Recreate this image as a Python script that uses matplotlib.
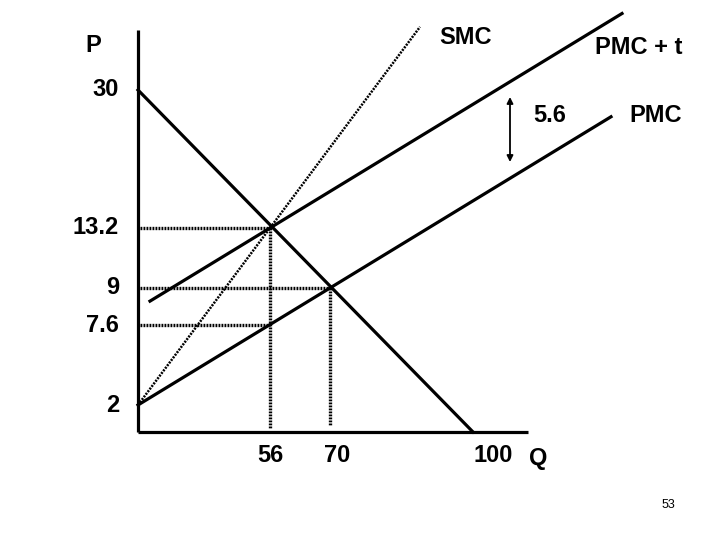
import numpy as np
import matplotlib
matplotlib.use("Agg")
import matplotlib.pyplot as plt

plt.rcParams['font.family'] = ['Liberation Sans', 'DejaVu Sans']

# economic values
q_ticks = [56, 70, 100]
p_ticks = [30, 13.2, 9, 7.6, 2]
tax = 5.6
demand_q = [0, 100]
demand_p = [30, 0]
pmc_q = [0, 70]
pmc_p = [2, 9]
smc_q = [0, 56]
smc_p = [2, 13.2]
eq_social = (56, 13.2)
eq_private = (70, 9)
pmc_at_social = (56, 7.6)
page_no = "53"

# schematic layout: the diagram is not to scale, so anchor values to positions
q_anchor = [0, 56, 70, 100]
x_anchor = [138, 270, 330, 473]
p_anchor = [0, 2, 7.6, 9, 13.2, 30]
y_anchor = [432, 405, 325, 288, 228, 90]


def qx(q):
    return np.interp(q, q_anchor, x_anchor)


def py(p):
    return np.interp(p, p_anchor, y_anchor)


def line_through(q, p, x0, x1, slope=None):
    xs, ys = qx(np.array(q)), py(np.array(p))
    if slope is None:
        slope = (ys[1] - ys[0]) / (xs[1] - xs[0])
    return [x0, x1], [ys[0] + slope * (x0 - xs[0]), ys[0] + slope * (x1 - xs[0])], slope


fig = plt.figure(figsize=(7.2, 5.4), dpi=100)
ax = fig.add_axes([0, 0, 1, 1])
ax.set_xlim(0, 720)
ax.set_ylim(540, 0)
ax.axis('off')

lw = 2.3
dot = dict(color='black', lw=2.4, linestyle=(0, (0.55, 0.35)))

# axes
ax.plot([qx(0), qx(0)], [30, py(0)], color='black', lw=lw, solid_capstyle='butt')
ax.plot([qx(0), 528], [py(0), py(0)], color='black', lw=lw, solid_capstyle='butt')

# demand
ax.plot(qx(demand_q), py(demand_p), color='black', lw=lw)

# PMC and PMC + t (parallel in the diagram)
xs, ys, s = line_through(pmc_q, pmc_p, qx(0), 611)
ax.plot(xs, ys, color='black', lw=lw)
xs, ys, _ = line_through([eq_social[0], eq_social[0]], [eq_social[1], eq_social[1]], 150, 622, slope=s)
ax.plot(xs, ys, color='black', lw=lw)

# SMC dotted
xs, ys, _ = line_through(smc_q, smc_p, qx(0), 420)
ax.plot(xs, ys, color='black', lw=1.8, linestyle=(0, (0.8, 0.5)))

# guide lines
for q, p in [eq_social, eq_private, pmc_at_social]:
    ax.plot([qx(0) + 2, qx(q)], [py(p), py(p)], **dot)
ax.plot([qx(eq_social[0])] * 2, [py(eq_social[1]), 429], **dot)
ax.plot([qx(eq_private[0])] * 2, [py(eq_private[1]), 425], **dot)

# tax arrow
ax.annotate('', xy=(510, 97), xytext=(510, 162),
            arrowprops=dict(arrowstyle='<|-|>', color='black', lw=1.3,
                            mutation_scale=9, shrinkA=0, shrinkB=0))

fs = 17
kw = dict(ha='center', va='center', fontsize=fs, fontweight='bold')
for p in p_ticks:
    ax.text(119, py(p), f"{p:g}", **{**kw, 'ha': 'right'})
for q in q_ticks:
    ax.text(qx(q) + (20 if q == 100 else 0) + (7 if q == 70 else 0), 455, f"{q:g}", **kw)
ax.text(93, 45, "P", **kw)
ax.text(538, 458, "Q", **kw)
ax.text(466, 38, "SMC", **kw)
ax.text(639, 48, "PMC + t", **kw)
ax.text(550, 115, f"{tax:g}", **kw)
ax.text(656, 115, "PMC", **kw)
ax.text(668, 505, page_no, ha='center', va='center', fontsize=9)

fig.savefig("out.png", dpi=100)
